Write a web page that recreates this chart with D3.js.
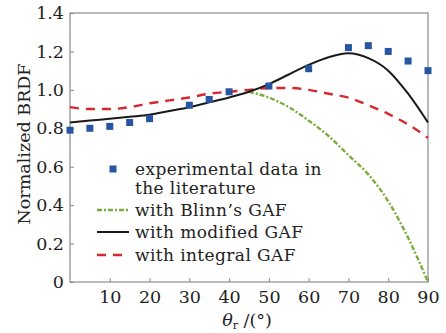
<!DOCTYPE html>
<html>
<head>
<meta charset="utf-8">
<script src="https://cdn.jsdelivr.net/npm/d3@7"></script>
<style>
  body { margin: 0; background: #fff; }
  svg { display: block; font-family: "DejaVu Serif", serif; }
</style>
</head>
<body>
<svg id="chart" width="446" height="333"></svg>
<script>
// experimental points (squares)
const expAngles = [0, 5, 10, 15, 20, 30, 35, 40, 50, 60, 70, 75, 80, 85, 90];
const expValues = [0.79, 0.80, 0.81, 0.83, 0.85, 0.92, 0.95, 0.99, 1.02, 1.11, 1.22, 1.23, 1.20, 1.15, 1.10];

// model curves
const curveAngles = [0, 5, 10, 15, 20, 25, 30, 35, 40, 45, 50, 55, 60, 65, 70, 75, 80, 85, 90];
const modifiedValues = [0.83, 0.84, 0.85, 0.86, 0.87, 0.89, 0.91, 0.935, 0.96, 0.99, 1.03, 1.08, 1.13, 1.17, 1.19, 1.165, 1.10, 0.98, 0.83];
const integralValues = [0.91, 0.90, 0.90, 0.91, 0.93, 0.945, 0.96, 0.98, 0.99, 1.00, 1.01, 1.01, 1.00, 0.98, 0.96, 0.92, 0.875, 0.82, 0.75];
const blinnAngles = [45, 50, 55, 60, 65, 70, 75, 80, 85, 90];
const blinnValues = [0.99, 0.96, 0.91, 0.84, 0.76, 0.66, 0.56, 0.42, 0.23, 0.0];

const xTicks = [10, 20, 30, 40, 50, 60, 70, 80, 90];
const yTicks = [0, 0.2, 0.4, 0.6, 0.8, 1.0, 1.2, 1.4];

const margin = {top: 13, right: 18, bottom: 51, left: 70};
const width = 446, height = 333;

const svg = d3.select('#chart');

const x = d3.scaleLinear().domain([0, 90]).range([margin.left, width - margin.right]);
const y = d3.scaleLinear().domain([0, 1.4]).range([height - margin.bottom, margin.top]);

const axisColor = '#8a8a8a';

// frame
svg.append('rect')
  .attr('x', x(0)).attr('y', y(1.4))
  .attr('width', x(90) - x(0)).attr('height', y(0) - y(1.4))
  .attr('fill', 'none').attr('stroke', axisColor).attr('stroke-width', 1.2);

// x axis (ticks pointing in)
const gx = svg.append('g')
  .attr('transform', `translate(0,${y(0)})`)
  .call(d3.axisBottom(x).tickValues(xTicks).tickSizeInner(-4).tickSizeOuter(0).tickPadding(9));
gx.select('.domain').remove();
gx.selectAll('.tick line').attr('stroke', axisColor);
gx.selectAll('.tick text').attr('font-size', 17.5).attr('fill', '#222')
  .attr('font-family', '"DejaVu Serif", serif');

// y axis
const gy = svg.append('g')
  .attr('transform', `translate(${x(0)},0)`)
  .call(d3.axisLeft(y).tickValues(yTicks).tickSizeInner(-4).tickSizeOuter(0).tickPadding(6)
    .tickFormat(d => d === 0 ? '0' : d3.format('.1f')(d)));
gy.select('.domain').remove();
gy.selectAll('.tick line').attr('stroke', axisColor);
gy.selectAll('.tick text').attr('font-size', 17.5).attr('fill', '#222')
  .attr('font-family', '"DejaVu Serif", serif');

// axis titles
svg.append('text')
  .attr('transform', `translate(24,144) rotate(-90)`)
  .attr('text-anchor', 'middle')
  .attr('dominant-baseline', 'central')
  .attr('font-size', 17.5).attr('fill', '#222')
  .text('Normalized BRDF');

const xt = svg.append('text')
  .attr('x', 247).attr('y', 326)
  .attr('text-anchor', 'middle')
  .attr('font-size', 17.5).attr('fill', '#222');
xt.append('tspan').attr('font-style', 'italic').text('θ');
xt.append('tspan').attr('font-size', 11).attr('dy', 3).text('r');
xt.append('tspan').attr('dy', -3).text(' /(°)');

// curves
const line = d3.line().x(d => x(d[0])).y(d => y(d[1])).curve(d3.curveMonotoneX);

svg.append('path')
  .datum(d3.zip(curveAngles, integralValues))
  .attr('fill', 'none').attr('stroke', '#d8282f').attr('stroke-width', 2.4)
  .attr('stroke-dasharray', '9,7')
  .attr('d', line);

svg.append('path')
  .datum(d3.zip(blinnAngles, blinnValues))
  .attr('fill', 'none').attr('stroke', '#78ad3a').attr('stroke-width', 2.4)
  .attr('stroke-dasharray', '5,2,2,2')
  .attr('d', line);

svg.append('path')
  .datum(d3.zip(curveAngles, modifiedValues))
  .attr('fill', 'none').attr('stroke', '#1a1a1a').attr('stroke-width', 2)
  .attr('d', line);

// experimental squares
const sq = 7;
svg.append('g').selectAll('rect')
  .data(d3.zip(expAngles, expValues))
  .join('rect')
  .attr('x', d => x(d[0]) - sq / 2)
  .attr('y', d => y(d[1]) - sq / 2)
  .attr('width', sq).attr('height', sq)
  .attr('fill', '#2855a3');

// legend
const lg = svg.append('g').attr('font-size', 17).attr('letter-spacing', 0.4).attr('fill', '#222');
const lx0 = 97, lx1 = 129, tx = 135;

lg.append('rect').attr('x', 113 - sq / 2).attr('y', 169 - sq / 2)
  .attr('width', sq).attr('height', sq).attr('fill', '#2855a3');
lg.append('text').attr('x', tx).attr('y', 175).text('experimental data in');
lg.append('text').attr('x', tx).attr('y', 194).text('the literature');

const legendLines = [
  {label: 'with Blinn’s GAF', color: '#78ad3a', dash: '5,2,2,2', w: 2.4, ly: 210},
  {label: 'with modified GAF', color: '#1a1a1a', dash: null, w: 2, ly: 232},
  {label: 'with integral GAF', color: '#d8282f', dash: '9,7', w: 2.4, ly: 255}
];
legendLines.forEach(d => {
  lg.append('line').attr('x1', lx0).attr('x2', lx1).attr('y1', d.ly).attr('y2', d.ly)
    .attr('stroke', d.color).attr('stroke-width', d.w)
    .attr('stroke-dasharray', d.dash);
  lg.append('text').attr('x', tx).attr('y', d.ly + 6).text(d.label);
});
</script>
</body>
</html>
